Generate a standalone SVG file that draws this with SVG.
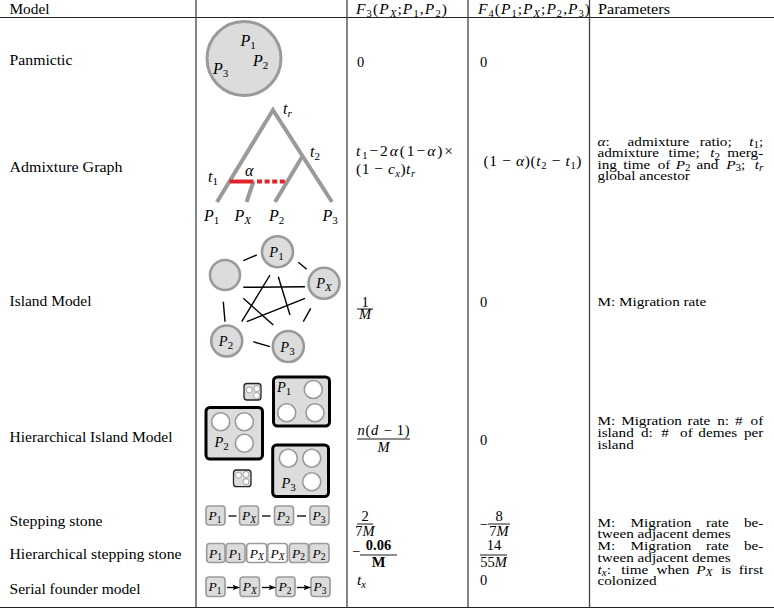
<svg xmlns="http://www.w3.org/2000/svg" width="774" height="610" viewBox="0 0 774 610">
<defs>
<style>
text { font-family: "Liberation Serif", "Times New Roman", serif; font-size: 14.5px; fill: #000; }
.m { font-style: italic; }
.sb { font-size: 10.5px; font-style: normal; }
.sbi { font-size: 10.5px; font-style: italic; }
.mt { font-size: 15.5px; }
.lab { font-size: 16px; font-style: italic; }
.lsb { font-size: 11px; font-style: normal; }
.lsbi { font-size: 11px; font-style: italic; }
.il { font-size: 14.5px; font-style: italic; }
.bf { font-weight: bold; }
.pm text { font-size: 13px; }
.pm .sb, .pm .sbi { font-size: 9.5px; }
.rule { stroke: #222; stroke-width: 1.2; }
.vr { stroke: #444; stroke-width: 1.3; }
.blob { fill: #dcdcdc; stroke: #9a9a9a; stroke-width: 3; }
.isl { fill: #dcdcdc; stroke: #9a9a9a; stroke-width: 2.6; }
.edge { stroke: #000; stroke-width: 1.4; }
.tree { stroke: #9a9a9a; stroke-width: 4; fill: none; }
.red { stroke: #e0242c; stroke-width: 4; }
.big { fill: #dcdcdc; stroke: #000; stroke-width: 3; }
.deme { fill: #fff; stroke: #9a9a9a; stroke-width: 1.6; }
.dice { fill: #dcdcdc; stroke: #222; stroke-width: 1.3; }
.dot { fill: #fff; stroke: #9a9a9a; stroke-width: 0.9; }
.st { fill: #dcdcdc; stroke: #9a9a9a; stroke-width: 1.6; }
.stw { fill: #fff; stroke: #9a9a9a; stroke-width: 1.6; }
.bl { font-size: 13.5px; font-style: italic; }
.bls { font-size: 9.5px; font-style: normal; }
.blsi { font-size: 9.5px; font-style: italic; }
.fr { stroke: #000; stroke-width: 0.9; }
.dash { stroke: #000; stroke-width: 1.3; }
.arr { stroke: #000; stroke-width: 1.3; marker-end: url(#ah); }
</style>
<marker id="ah" viewBox="0 0 10 8" refX="10" refY="4" markerWidth="7" markerHeight="5.6" orient="auto" markerUnits="userSpaceOnUse">
<path d="M0,0 L10,4 L0,8 L2.5,4 z" fill="#000"/>
</marker>
</defs>
<rect x="0" y="0" width="774" height="610" fill="#fff"/>

<g id="table-rules">
<line class="rule" x1="0" y1="17.5" x2="774" y2="17.5"/>
<line class="rule" x1="0" y1="607.5" x2="774" y2="607.5"/>
<line class="vr" x1="196" y1="0" x2="196" y2="607.5"/>
<line class="vr" x1="347" y1="0" x2="347" y2="607.5"/>
<line class="vr" x1="468" y1="0" x2="468" y2="607.5"/>
<line class="vr" x1="589.5" y1="0" x2="589.5" y2="607.5"/>
</g>

<g id="header">
<text x="9.5" y="13.5" textLength="40" lengthAdjust="spacingAndGlyphs">Model</text>
<text x="356" y="13.5" class="mt" textLength="91" lengthAdjust="spacing"><tspan class="m">F</tspan><tspan class="sb" dy="3">3</tspan><tspan dy="-3">(</tspan><tspan class="m">P</tspan><tspan class="sbi" dy="3">X</tspan><tspan dy="-3">;</tspan><tspan class="m">P</tspan><tspan class="sb" dy="3">1</tspan><tspan dy="-3">,</tspan><tspan class="m">P</tspan><tspan class="sb" dy="3">2</tspan><tspan dy="-3">)</tspan></text>
<text x="478" y="13.5" class="mt" textLength="112" lengthAdjust="spacing"><tspan class="m">F</tspan><tspan class="sb" dy="3">4</tspan><tspan dy="-3">(</tspan><tspan class="m">P</tspan><tspan class="sb" dy="3">1</tspan><tspan dy="-3">;</tspan><tspan class="m">P</tspan><tspan class="sbi" dy="3">X</tspan><tspan dy="-3">;</tspan><tspan class="m">P</tspan><tspan class="sb" dy="3">2</tspan><tspan dy="-3">,</tspan><tspan class="m">P</tspan><tspan class="sb" dy="3">3</tspan><tspan dy="-3">)</tspan></text>
<text x="598" y="13.5" textLength="72" lengthAdjust="spacingAndGlyphs">Parameters</text>
</g>

<g id="row-panmictic">
<text x="9.5" y="65" textLength="63" lengthAdjust="spacingAndGlyphs">Panmictic</text>
<circle class="blob" cx="244" cy="58.5" r="37"/>
<text x="240.5" y="46" class="lab">P<tspan class="lsb" dy="3">1</tspan></text>
<text x="253" y="66" class="lab">P<tspan class="lsb" dy="3">2</tspan></text>
<text x="213" y="74" class="lab">P<tspan class="lsb" dy="3">3</tspan></text>
<text x="357" y="66.5">0</text>
<text x="480" y="66.5">0</text>
</g>

<g id="row-admixture">
<text x="9.5" y="172" textLength="113" lengthAdjust="spacingAndGlyphs">Admixture Graph</text>
<g id="admix-tree">
<polyline class="tree" points="217,202 273,110 332,202"/>
<line class="tree" x1="302" y1="157" x2="275" y2="202"/>
<line class="tree" x1="253.5" y1="181.5" x2="246.5" y2="202"/>
<line class="red" x1="229.5" y1="181.5" x2="253.5" y2="181.5"/>
<line class="red" x1="257" y1="181.5" x2="285.5" y2="181.5" stroke-dasharray="5 2.6"/>
</g>
<text x="283" y="114" class="lab">t<tspan class="lsbi" dy="3">r</tspan></text>
<text x="310" y="157" class="lab">t<tspan class="lsb" dy="3">2</tspan></text>
<text x="208" y="182" class="lab">t<tspan class="lsb" dy="3">1</tspan></text>
<text x="245" y="176" class="lab">α</text>
<text x="204" y="221" class="lab">P<tspan class="lsb" dy="3">1</tspan></text>
<text x="234.5" y="221" class="lab">P<tspan class="lsbi" dy="3">X</tspan></text>
<text x="269" y="221" class="lab">P<tspan class="lsb" dy="3">2</tspan></text>
<text x="322.5" y="221" class="lab">P<tspan class="lsb" dy="3">3</tspan></text>
<text x="356" y="156" class="mt" textLength="97" lengthAdjust="spacing"><tspan class="m">t</tspan><tspan class="sb" dy="3">1</tspan><tspan dy="-3">−2</tspan><tspan class="m">α</tspan><tspan>(1−</tspan><tspan class="m">α</tspan><tspan>)×</tspan></text>
<text x="356" y="173.5" class="mt" textLength="59" lengthAdjust="spacing">(1 − <tspan class="m">c</tspan><tspan class="sbi" dy="3">x</tspan><tspan dy="-3">)</tspan><tspan class="m">t</tspan><tspan class="sbi" dy="3">r</tspan></text>
<text x="483.5" y="166" class="mt" textLength="98" lengthAdjust="spacing">(1 − <tspan class="m">α</tspan>)(<tspan class="m">t</tspan><tspan class="sb" dy="3">2</tspan><tspan dy="-3"> − </tspan><tspan class="m">t</tspan><tspan class="sb" dy="3">1</tspan><tspan dy="-3">)</tspan></text>
<g class="pm" id="params-admixture" transform="matrix(1.17 0 0 1 -101.575 0)">
<text y="146"><tspan x="597.5" class="m">α</tspan><tspan>:</tspan><tspan x="623.2">admixture</tspan><tspan x="684.8">ratio;</tspan></text>
<text x="739.2" y="146" text-anchor="end"><tspan class="m">t</tspan><tspan class="sb" dy="2.5">1</tspan><tspan dy="-2.5">;</tspan></text>
<text y="157.5"><tspan x="597.5">admixture</tspan><tspan x="658.2">time;</tspan><tspan x="693.9" class="m">t</tspan><tspan class="sb" dy="2.5">2</tspan></text>
<text x="739.2" y="157.5" text-anchor="end">merg-</text>
<text y="169"><tspan x="597.5">ing</tspan><tspan x="619.5">time</tspan><tspan x="648.9">of</tspan><tspan x="664.3" class="m">P</tspan><tspan class="sb" dy="2.5">2</tspan><tspan x="682.1" dy="-2.5">and</tspan><tspan x="707.5" class="m">P</tspan><tspan class="sb" dy="2.5">3</tspan><tspan dy="-2.5">;</tspan></text>
<text x="739.2" y="169" text-anchor="end"><tspan class="m">t</tspan><tspan class="sbi" dy="2.5">r</tspan></text>
<text x="597.5" y="180.5">global ancestor</text>
</g>
</g>

<g id="row-island">
<text x="9.5" y="306" textLength="82" lengthAdjust="spacingAndGlyphs">Island Model</text>
<g id="island-edges">
<line class="edge" x1="243.3" y1="260.7" x2="256.7" y2="255"/>
<line class="edge" x1="298.3" y1="262.3" x2="306.7" y2="269.3"/>
<line class="edge" x1="310.7" y1="308.3" x2="303.3" y2="321.7"/>
<line class="edge" x1="270" y1="346.7" x2="253.3" y2="341.7"/>
<line class="edge" x1="225" y1="321.7" x2="223.3" y2="301.7"/>
<line class="edge" x1="243.3" y1="287.3" x2="305" y2="286.7"/>
<line class="edge" x1="270" y1="275" x2="241.7" y2="321.7"/>
<line class="edge" x1="278.3" y1="276.7" x2="290" y2="315"/>
<line class="edge" x1="243.3" y1="298.3" x2="273.3" y2="325"/>
<line class="edge" x1="246.7" y1="321.7" x2="305" y2="298.3"/>
</g>
<g id="island-u"><circle class="isl" cx="225" cy="275" r="15"/></g>
<g id="island-p1"><circle class="isl" cx="277.5" cy="251.7" r="15.5"/><text x="276.5" y="256.5" text-anchor="middle" class="il">P<tspan class="lsb" dy="3">1</tspan></text></g>
<g id="island-px"><circle class="isl" cx="324" cy="283.3" r="15.5"/><text x="324" y="288" text-anchor="middle" class="il">P<tspan class="lsbi" dy="3">X</tspan></text></g>
<g id="island-p2"><circle class="isl" cx="226.7" cy="341" r="15.5"/><text x="226" y="346" text-anchor="middle" class="il">P<tspan class="lsb" dy="3">2</tspan></text></g>
<g id="island-p3"><circle class="isl" cx="288.3" cy="346.5" r="15.5"/><text x="287.5" y="351.5" text-anchor="middle" class="il">P<tspan class="lsb" dy="3">3</tspan></text></g>
<text x="365" y="306.5" text-anchor="middle">1</text>
<line class="fr" x1="357" y1="309" x2="373" y2="309"/>
<text x="365" y="318.5" text-anchor="middle" class="m">M</text>
<text x="480" y="306.5">0</text>
<g class="pm" id="params-island" transform="matrix(1.17 0 0 1 -101.575 0)">
<text x="597.5" y="306.5">M: Migration rate</text>
</g>
</g>

<g id="row-hier-island">
<text x="9.5" y="442" textLength="163" lengthAdjust="spacingAndGlyphs">Hierarchical Island Model</text>
<g id="hi-dice-top"><rect class="dice" x="244" y="383.5" width="17" height="16.5" rx="3"/><circle class="dot" cx="249.3" cy="390" r="3"/><circle class="dot" cx="256.8" cy="388.5" r="3"/><circle class="dot" cx="256.5" cy="395.5" r="3"/></g>
<g id="hi-p1"><rect class="big" x="273.5" y="377" width="56" height="49" rx="4"/><circle class="deme" cx="313.3" cy="389.5" r="9"/><circle class="deme" cx="286.7" cy="412.7" r="9"/><circle class="deme" cx="315" cy="412.7" r="9"/><text x="277" y="391.5" class="il">P<tspan class="lsb" dy="3">1</tspan></text></g>
<g id="hi-p2"><rect class="big" x="206" y="407.5" width="56.5" height="51.5" rx="4"/><circle class="deme" cx="220.7" cy="421.7" r="9"/><circle class="deme" cx="244.3" cy="421.7" r="9"/><circle class="deme" cx="244.3" cy="443.3" r="9"/><text x="214.5" y="446.5" class="il">P<tspan class="lsb" dy="3">2</tspan></text></g>
<g id="hi-p3"><rect class="big" x="272.7" y="445" width="55.8" height="51.5" rx="4"/><circle class="deme" cx="288.3" cy="458.3" r="9"/><circle class="deme" cx="311.7" cy="458.3" r="9"/><circle class="deme" cx="311.7" cy="481.7" r="9"/><text x="281.5" y="488" class="il">P<tspan class="lsb" dy="3">3</tspan></text></g>
<g id="hi-dice-bottom"><rect class="dice" x="233.5" y="470" width="17.5" height="16.7" rx="3"/><circle class="dot" cx="238.5" cy="475.2" r="3"/><circle class="dot" cx="246" cy="474.5" r="3"/><circle class="dot" cx="246" cy="481.7" r="3"/></g>
<text x="383.5" y="434.5" text-anchor="middle" textLength="52" lengthAdjust="spacing"><tspan class="m">n</tspan>(<tspan class="m">d</tspan> − 1)</text>
<line class="fr" x1="357" y1="439" x2="410" y2="439"/>
<text x="383.5" y="451.5" text-anchor="middle" class="m">M</text>
<text x="480" y="445">0</text>
<g class="pm" id="params-hier-island" transform="matrix(1.17 0 0 1 -101.575 0)">
<text y="425"><tspan x="597.5">M:</tspan><tspan x="617.7">Migration</tspan><tspan x="674.5">rate</tspan><tspan x="699.8">n:</tspan><tspan x="715.1">#</tspan></text>
<text x="739.2" y="425" text-anchor="end">of</text>
<text y="437.3"><tspan x="597.5">island</tspan><tspan x="634.6">d:</tspan><tspan x="652.1">#</tspan><tspan x="668.1">of</tspan><tspan x="683.7">demes</tspan></text>
<text x="739.2" y="437.3" text-anchor="end">per</text>
<text x="597.5" y="449.3">island</text>
</g>
</g>

<g id="row-stepping">
<text x="9.5" y="525.5" textLength="93" lengthAdjust="spacingAndGlyphs">Stepping stone</text>
<g id="ss-boxes">
<g id="ss-p1"><rect class="st" x="206" y="506" width="19" height="19" rx="3"/><text x="215" y="520" text-anchor="middle" class="bl">P<tspan class="bls" dy="2.5">1</tspan></text></g>
<g id="ss-px"><rect class="st" x="239.5" y="506" width="19" height="19" rx="3"/><text x="249" y="520" text-anchor="middle" class="bl">P<tspan class="blsi" dy="2.5">X</tspan></text></g>
<g id="ss-p2"><rect class="st" x="274.5" y="506" width="19" height="19" rx="3"/><text x="283.5" y="520" text-anchor="middle" class="bl">P<tspan class="bls" dy="2.5">2</tspan></text></g>
<g id="ss-p3"><rect class="st" x="310" y="506" width="19" height="19" rx="3"/><text x="319" y="520" text-anchor="middle" class="bl">P<tspan class="bls" dy="2.5">3</tspan></text></g>
</g>
<g id="ss-links">
<line class="dash" x1="228.5" y1="516" x2="236.5" y2="516"/>
<line class="dash" x1="262" y1="516" x2="270.5" y2="516"/>
<line class="dash" x1="297" y1="516" x2="306" y2="516"/>
</g>
<text x="365" y="521" text-anchor="middle">2</text>
<line class="fr" x1="357" y1="524" x2="373" y2="524"/>
<text x="365" y="535.5" text-anchor="middle">7<tspan class="m">M</tspan></text>
<text x="479.5" y="528.5">−</text>
<text x="499" y="521" text-anchor="middle">8</text>
<line class="fr" x1="488" y1="524" x2="510" y2="524"/>
<text x="499" y="535.5" text-anchor="middle">7<tspan class="m">M</tspan></text>
<g class="pm" id="params-stepping" transform="matrix(1.17 0 0 1 -101.575 0)">
<text y="526.7"><tspan x="597.5">M:</tspan><tspan x="625.8">Migration</tspan><tspan x="690.2">rate</tspan></text>
<text x="739.2" y="526.7" text-anchor="end">be-</text>
<text x="597.5" y="538.3">tween adjacent demes</text>
</g>
</g>

<g id="row-hier-stepping">
<text x="9.5" y="559" textLength="172" lengthAdjust="spacingAndGlyphs">Hierarchical stepping stone</text>
<g id="hs-boxes">
<g id="hs-1"><rect class="st" x="206.7" y="543.5" width="18.3" height="19" rx="3"/><text x="215.5" y="557.5" text-anchor="middle" class="bl">P<tspan class="bls" dy="2.5">1</tspan></text></g>
<g id="hs-2"><rect class="st" x="226" y="543.5" width="19" height="19" rx="3"/><text x="235.3" y="557.5" text-anchor="middle" class="bl">P<tspan class="bls" dy="2.5">1</tspan></text></g>
<g id="hs-3"><rect class="stw" x="246.7" y="543.5" width="20" height="19" rx="3"/><text x="256.7" y="557.5" text-anchor="middle" class="bl">P<tspan class="blsi" dy="2.5">X</tspan></text></g>
<g id="hs-4"><rect class="stw" x="267.7" y="543.5" width="19.6" height="19" rx="3"/><text x="277.5" y="557.5" text-anchor="middle" class="bl">P<tspan class="blsi" dy="2.5">X</tspan></text></g>
<g id="hs-5"><rect class="st" x="289.3" y="543.5" width="19" height="19" rx="3"/><text x="298.6" y="557.5" text-anchor="middle" class="bl">P<tspan class="bls" dy="2.5">2</tspan></text></g>
<g id="hs-6"><rect class="st" x="309.3" y="543.5" width="19.7" height="19" rx="3"/><text x="318.9" y="557.5" text-anchor="middle" class="bl">P<tspan class="bls" dy="2.5">2</tspan></text></g>
</g>
<text x="352" y="555.5">−</text>
<text x="378.5" y="550" text-anchor="middle" class="bf">0.06</text>
<line class="fr" x1="360" y1="555" x2="397" y2="555"/>
<text x="378.5" y="567" text-anchor="middle" class="bf">M</text>
<text x="494" y="550" text-anchor="middle">14</text>
<line class="fr" x1="480" y1="555" x2="507" y2="555"/>
<text x="493.5" y="567" text-anchor="middle">55<tspan class="m">M</tspan></text>
<g class="pm" id="params-hier-stepping" transform="matrix(1.17 0 0 1 -101.575 0)">
<text y="550"><tspan x="597.5">M:</tspan><tspan x="625.8">Migration</tspan><tspan x="690.2">rate</tspan></text>
<text x="739.2" y="550" text-anchor="end">be-</text>
<text x="597.5" y="561.7">tween adjacent demes</text>
</g>
</g>

<g id="row-serial">
<text x="9.5" y="593.5" textLength="131" lengthAdjust="spacingAndGlyphs">Serial founder model</text>
<g id="sf-boxes">
<g id="sf-p1"><rect class="st" x="206" y="577" width="19" height="19.5" rx="3"/><text x="215" y="591.3" text-anchor="middle" class="bl">P<tspan class="bls" dy="2.5">1</tspan></text></g>
<g id="sf-px"><rect class="st" x="240" y="577" width="19.5" height="19.5" rx="3"/><text x="249.8" y="591.3" text-anchor="middle" class="bl">P<tspan class="blsi" dy="2.5">X</tspan></text></g>
<g id="sf-p2"><rect class="st" x="276" y="577" width="19" height="19.5" rx="3"/><text x="285" y="591.3" text-anchor="middle" class="bl">P<tspan class="bls" dy="2.5">2</tspan></text></g>
<g id="sf-p3"><rect class="st" x="311" y="577" width="19" height="19.5" rx="3"/><text x="320" y="591.3" text-anchor="middle" class="bl">P<tspan class="bls" dy="2.5">3</tspan></text></g>
</g>
<g id="sf-arrows">
<line class="arr" x1="227" y1="587.5" x2="239.5" y2="587.5"/>
<line class="arr" x1="262" y1="587.5" x2="275.5" y2="587.5"/>
<line class="arr" x1="297" y1="587.5" x2="310.5" y2="587.5"/>
</g>
<text x="357" y="584.5" class="mt m">t<tspan class="sbi" dy="3">x</tspan></text>
<text x="480" y="584.5">0</text>
<g class="pm" id="params-serial" transform="matrix(1.17 0 0 1 -101.575 0)">
<text y="574"><tspan x="597.5" class="m">t</tspan><tspan class="sbi" dy="2.5">x</tspan><tspan dy="-2.5">:</tspan><tspan x="617.9">time</tspan><tspan x="647.9">when</tspan><tspan x="682" class="m">P</tspan><tspan class="sbi" dy="2.5">X</tspan><tspan x="703.2" dy="-2.5">is</tspan></text>
<text x="739.2" y="574" text-anchor="end">first</text>
<text x="597.5" y="585.5">colonized</text>
</g>
</g>
</svg>
